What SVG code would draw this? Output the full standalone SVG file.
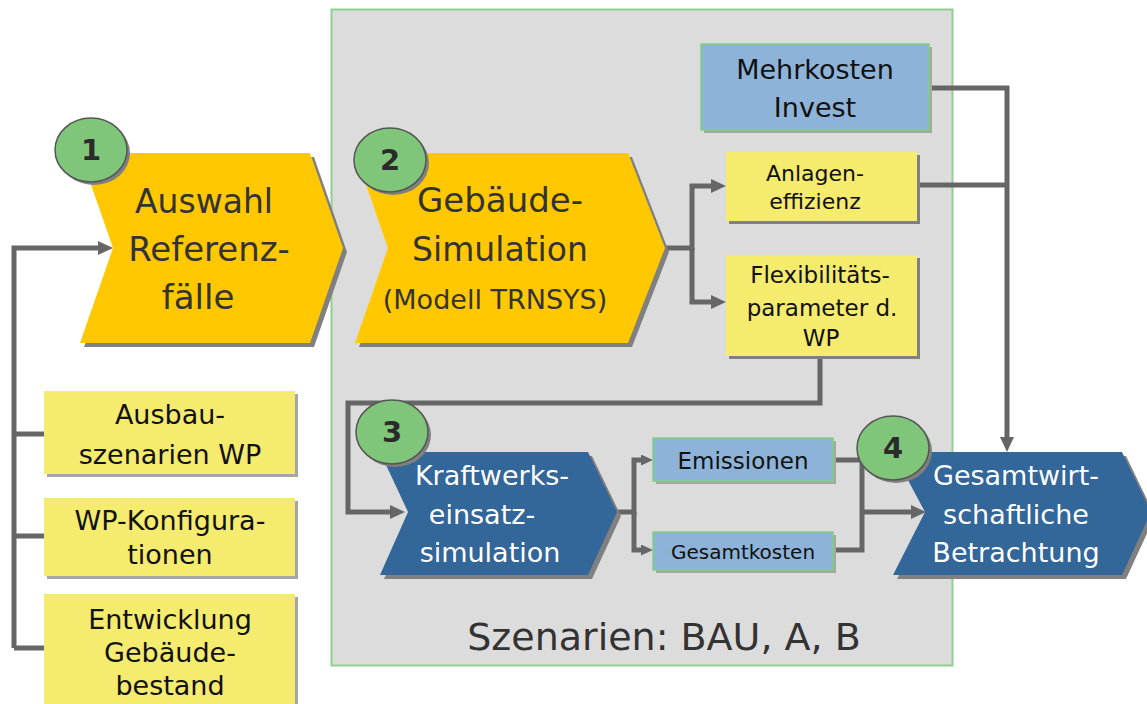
<svg xmlns="http://www.w3.org/2000/svg" width="1147" height="704" viewBox="0 0 1147 704">
<defs>
<style>
text{font-family:"DejaVu Sans","Liberation Sans",sans-serif;text-anchor:middle}
.dark{fill:#333333}
.blk{fill:#111111}
.wht{fill:#ffffff}
.yel{fill:#ffc800}
.sh{fill:#808080}
.bsh{fill:#a6a6a6}
.ybox{fill:#f5eb6e}
.bbox{fill:#8db3d9;stroke:#7fcf7f;stroke-width:1.5}
.blue{fill:#336699}
.circ{fill:#80c67a;stroke:#555555;stroke-width:1.5}
.num{font-weight:bold;font-size:29px;fill:#2b2b2b}
.ln{fill:none;stroke:#666666;stroke-width:5}
</style>
<marker id="ah" markerWidth="15" markerHeight="14" refX="7" refY="7" orient="auto" markerUnits="userSpaceOnUse">
<path d="M0,0 L15,7 L0,14 Z" fill="#666666"/>
</marker>
<marker id="as" markerWidth="12" markerHeight="11" refX="5" refY="5.5" orient="auto" markerUnits="userSpaceOnUse">
<path d="M0,0 L12,5.5 L0,11 Z" fill="#666666"/>
</marker>
</defs>
<rect width="1147" height="704" fill="#ffffff"/>

<g id="panel">
<rect x="331.5" y="9.5" width="621" height="656" fill="#dcdcdc" stroke="#8fd08f" stroke-width="2"/>
<text x="664" y="650" font-size="38" class="dark">Szenarien: BAU, A, B</text>
</g>

<g id="connectors">
<path class="ln" d="M14,648 V248 H105" marker-end="url(#ah)"/>
<path class="ln" d="M14,434 H44 M14,536 H44 M14,648 H44"/>
<path class="ln" d="M665,248 H692 V186 H718" marker-end="url(#ah)"/>
<path class="ln" d="M692,248 V302 H718" marker-end="url(#ah)"/>
<path class="ln" d="M929,88 H1007 V444" marker-end="url(#ah)"/>
<path class="ln" d="M917,185 H1007"/>
<path class="ln" d="M820,356 V403 H348 V512 H397" marker-end="url(#ah)"/>
<path class="ln" d="M617,512 H634 V460 H646" marker-end="url(#as)"/>
<path class="ln" d="M634,512 V550 H646" marker-end="url(#as)"/>
<path class="ln" d="M833,460 H862 V550 H833"/>
<path class="ln" d="M862,512 H918" marker-end="url(#ah)"/>
</g>

<g id="node1">
<polygon class="sh" points="84,157 314,157 347,252 314,347 84,347 117,252"/>
<polygon class="yel" points="80,153 310,153 343,248 310,343 80,343 113,248"/>
<text x="204" y="213" font-size="33" class="dark">Auswahl</text>
<text x="209" y="261" font-size="34" class="dark">Referenz-</text>
<text x="198" y="309" font-size="34" class="dark">fälle</text>
<ellipse cx="94" cy="153" rx="36" ry="32" class="sh"/>
<ellipse cx="91" cy="150" rx="36" ry="32" class="circ"/>
<text x="91" y="160" class="num">1</text>
</g>

<g id="node2">
<polygon class="sh" points="359,157 632,157 669,252 632,347 359,347 392,252"/>
<polygon class="yel" points="355,153 628,153 665,248 628,343 355,343 388,248"/>
<text x="500" y="212" font-size="34" class="dark">Gebäude-</text>
<text x="500" y="261" font-size="33" class="dark">Simulation</text>
<text x="495" y="309" font-size="27" class="dark">(Modell TRNSYS)</text>
<ellipse cx="393" cy="163" rx="36" ry="32" class="sh"/>
<ellipse cx="390" cy="160" rx="36" ry="32" class="circ"/>
<text x="390" y="170" class="num">2</text>
</g>

<g id="mehrkosten">
<rect x="704" y="47" width="228" height="86" class="bsh"/>
<rect x="701" y="44" width="228" height="86" class="bbox"/>
<text x="815" y="79" font-size="27" class="blk">Mehrkosten</text>
<text x="815" y="117" font-size="27" class="blk">Invest</text>
</g>

<g id="anlagen">
<rect x="729" y="155" width="191" height="69" class="sh"/>
<rect x="726" y="152" width="191" height="69" class="ybox"/>
<text x="815" y="181" font-size="22" class="blk">Anlagen-</text>
<text x="815" y="209" font-size="22" class="blk">effizienz</text>
</g>

<g id="flex">
<rect x="729" y="258" width="191" height="101" class="sh"/>
<rect x="726" y="255" width="191" height="101" class="ybox"/>
<text x="820" y="283" font-size="23" class="blk">Flexibilitäts-</text>
<text x="822" y="316" font-size="23" class="blk">parameter d.</text>
<text x="821" y="346" font-size="23" class="blk">WP</text>
</g>

<g id="node3">
<polygon class="sh" points="384,456 592,456 621,516 592,579 384,579 412,516"/>
<polygon class="blue" points="380,452 588,452 617,512 588,575 380,575 408,512"/>
<text x="492" y="485" font-size="27" class="wht">Kraftwerks-</text>
<text x="482" y="524" font-size="27" class="wht">einsatz-</text>
<text x="490" y="562" font-size="27" class="wht">simulation</text>
<ellipse cx="395" cy="435" rx="36" ry="32" class="sh"/>
<ellipse cx="392" cy="432" rx="36" ry="32" class="circ"/>
<text x="392" y="442" class="num">3</text>
</g>

<g id="emissionen">
<rect x="656" y="441" width="180" height="43" class="bsh"/>
<rect x="653" y="438" width="180" height="43" class="bbox"/>
<text x="743" y="469" font-size="23" class="blk">Emissionen</text>
</g>

<g id="gesamtkosten">
<rect x="656" y="535" width="180" height="38" class="bsh"/>
<rect x="653" y="532" width="180" height="38" class="bbox"/>
<text x="743" y="559" font-size="20" class="blk">Gesamtkosten</text>
</g>

<g id="node4">
<polygon class="sh" points="897,456 1126,456 1155,516 1126,579 897,579 929,516"/>
<polygon class="blue" points="893,452 1122,452 1151,512 1122,575 893,575 925,512"/>
<text x="1016" y="485" font-size="27" class="wht">Gesamtwirt-</text>
<text x="1016" y="524" font-size="27" class="wht">schaftliche</text>
<text x="1016" y="562" font-size="27" class="wht">Betrachtung</text>
<ellipse cx="896" cy="451" rx="36" ry="32" class="sh"/>
<ellipse cx="893" cy="448" rx="36" ry="32" class="circ"/>
<text x="893" y="458" class="num">4</text>
</g>

<g id="ausbau">
<rect x="47" y="394" width="251" height="83" class="bsh"/>
<rect x="44" y="391" width="251" height="83" class="ybox"/>
<text x="170" y="424" font-size="27" class="blk">Ausbau-</text>
<text x="170" y="464" font-size="27" class="blk">szenarien WP</text>
</g>

<g id="konfig">
<rect x="47" y="501" width="251" height="78" class="bsh"/>
<rect x="44" y="498" width="251" height="78" class="ybox"/>
<text x="170" y="530" font-size="27" class="blk">WP-Konfigura-</text>
<text x="170" y="564" font-size="27" class="blk">tionen</text>
</g>

<g id="entwicklung">
<rect x="47" y="597" width="251" height="110" class="bsh"/>
<rect x="44" y="594" width="251" height="110" class="ybox"/>
<text x="170" y="629" font-size="27" class="blk">Entwicklung</text>
<text x="170" y="662" font-size="27" class="blk">Gebäude-</text>
<text x="170" y="695" font-size="27" class="blk">bestand</text>
</g>
</svg>
